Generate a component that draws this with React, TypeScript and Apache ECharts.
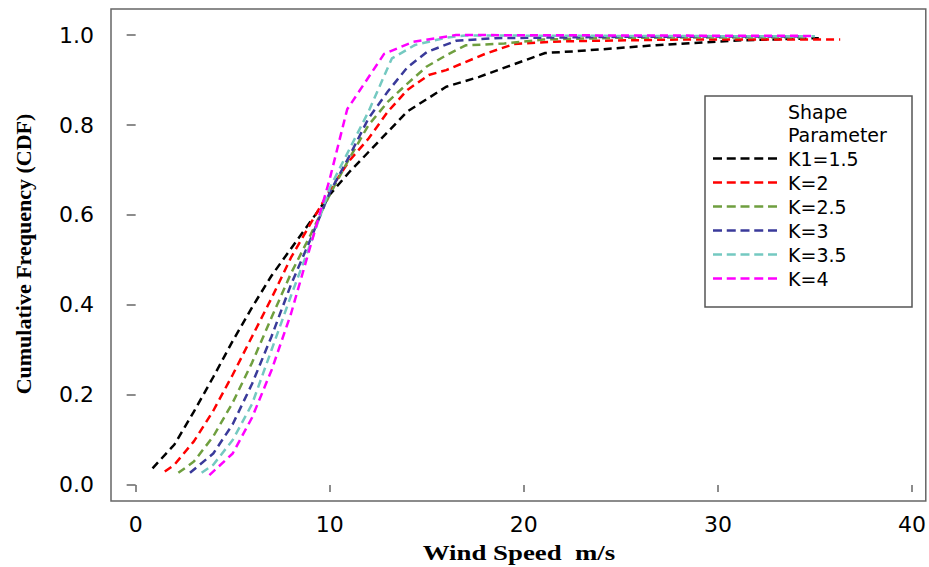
import React, { useEffect, useRef } from 'react';
import * as echarts from 'echarts';

const seriesNames = ['K1=1.5', 'K=2', 'K=2.5', 'K=3', 'K=3.5', 'K=4'];
const seriesColors = ['#000000', '#ff0000', '#6f9f3f', '#3a3a9a', '#74c9c1', '#ff00ff'];

const xTicks = [0, 10, 20, 30, 40];
const yTicks = [0, 0.2, 0.4, 0.6, 0.8, 1.0];

const k15Speed = [0.87, 2, 3, 4, 5, 6, 7, 8, 9, 10, 11, 12, 13, 14, 16, 17.7, 21.1, 22.7, 27, 31, 35.2];
const k15Cdf = [0.037, 0.09, 0.163, 0.24, 0.32, 0.395, 0.465, 0.525, 0.585, 0.645, 0.695, 0.74, 0.785, 0.83, 0.885, 0.907, 0.96, 0.964, 0.978, 0.988, 0.993];

const k2Speed = [1.5, 2, 3, 4, 5, 6, 7, 8, 9, 10, 11, 12, 13, 14, 15.1, 16, 18, 19.5, 22, 28, 36.3];
const k2Cdf = [0.03, 0.045, 0.097, 0.165, 0.245, 0.33, 0.415, 0.505, 0.58, 0.655, 0.72, 0.77, 0.83, 0.878, 0.911, 0.922, 0.958, 0.98, 0.986, 0.99, 0.99];

const k25Speed = [2.2, 3, 4, 5, 6, 7, 8, 9, 10, 11, 12, 13, 14, 15, 16, 17, 19, 21, 25, 34.5];
const k25Cdf = [0.027, 0.052, 0.108, 0.183, 0.272, 0.372, 0.47, 0.555, 0.645, 0.725, 0.8, 0.852, 0.892, 0.93, 0.955, 0.977, 0.981, 0.99, 0.994, 0.995];

const k3Speed = [2.8, 4, 5, 6, 7, 8, 9, 10, 11, 12, 13, 14, 15, 16.5, 18.5, 25, 34.5];
const k3Cdf = [0.027, 0.07, 0.135, 0.225, 0.33, 0.445, 0.545, 0.65, 0.73, 0.815, 0.875, 0.928, 0.962, 0.987, 0.993, 0.996, 0.997];

const k35Speed = [3.4, 4, 5, 6, 7, 8, 9, 10, 11, 12, 13.2, 14.4, 16, 17, 25, 35];
const k35Cdf = [0.027, 0.045, 0.1, 0.18, 0.3, 0.42, 0.535, 0.66, 0.745, 0.83, 0.948, 0.978, 0.994, 0.999, 0.998, 0.997];

const k4Speed = [3.8, 5, 6, 7, 8, 9, 10, 10.9, 12.8, 14.3, 16.5, 25, 35];
const k4Cdf = [0.022, 0.07, 0.15, 0.255, 0.38, 0.53, 0.68, 0.835, 0.958, 0.985, 1.0, 0.999, 0.998];

const speeds = [k15Speed, k2Speed, k25Speed, k3Speed, k35Speed, k4Speed];
const cdfs = [k15Cdf, k2Cdf, k25Cdf, k3Cdf, k35Cdf, k4Cdf];

const dashIcon =
  'path://M0,0h9v2.5h-9z M13.75,0h9v2.5h-9z M27.5,0h9v2.5h-9z M41.25,0h9v2.5h-9z M55,0h9v2.5h-9z';

const tickFont = 'DejaVu Sans';

export default function App() {
  const ref = useRef<HTMLDivElement>(null);
  useEffect(() => {
    const chart = echarts.init(ref.current!, undefined, { renderer: 'svg' });
    const option = {
      animation: false,
      backgroundColor: '#ffffff',
      grid: {
        show: true,
        left: 111,
        right: 1,
        top: 9,
        bottom: 66,
        borderColor: '#666666',
        borderWidth: 1.5,
        backgroundColor: 'transparent',
      },
      xAxis: {
        type: 'value',
        min: -1.27,
        max: 40.71,
        axisLine: { show: false },
        splitLine: { show: false },
        axisTick: {
          show: true,
          customValues: xTicks,
          length: 7,
          lineStyle: { color: '#666666', width: 1.5 },
        },
        axisLabel: {
          customValues: xTicks,
          margin: 12,
          fontSize: 22,
          fontFamily: tickFont,
          color: '#000',
          formatter: (v: number) => String(Math.round(v)),
        },
      },
      yAxis: {
        type: 'value',
        min: -0.0356,
        max: 1.0578,
        axisLine: { show: false },
        splitLine: { show: false },
        axisTick: {
          show: true,
          customValues: yTicks,
          length: 9,
          lineStyle: { color: '#666666', width: 1.5 },
        },
        axisLabel: {
          customValues: yTicks,
          margin: 17,
          fontSize: 22,
          fontFamily: tickFont,
          color: '#000',
          formatter: (v: number) => v.toFixed(1),
        },
      },
      legend: {
        data: seriesNames,
        orient: 'vertical',
        left: 713,
        top: 148,
        padding: 0,
        itemGap: 3,
        itemWidth: 64,
        itemHeight: 2.5,
        icon: dashIcon,
        selectedMode: false,
        textStyle: {
          fontFamily: tickFont,
          fontSize: 19,
          lineHeight: 21,
          color: '#000',
          padding: [0, 0, 0, 6],
        },
      },
      graphic: [
        {
          type: 'rect',
          shape: { x: 705, y: 96, width: 207, height: 211 },
          style: { fill: 'none', stroke: '#555', lineWidth: 1.5 },
          z: 10,
        },
        {
          type: 'text',
          x: 788,
          y: 112,
          style: {
            text: 'Shape',
            font: '19px "DejaVu Sans"',
            fill: '#000',
            textAlign: 'left',
            textVerticalAlign: 'middle',
            align: 'left',
            verticalAlign: 'middle',
          },
          z: 10,
        },
        {
          type: 'text',
          x: 788,
          y: 135,
          style: {
            text: 'Parameter',
            font: '19px "DejaVu Sans"',
            fill: '#000',
            textAlign: 'left',
            textVerticalAlign: 'middle',
            align: 'left',
            verticalAlign: 'middle',
          },
          z: 10,
        },
        {
          type: 'text',
          x: 519,
          y: 552,
          scaleX: 1.22,
          style: {
            text: 'Wind Speed  m/s',
            font: 'bold 22px "Liberation Serif"',
            fill: '#000',
            textAlign: 'center',
            textVerticalAlign: 'middle',
            align: 'center',
            verticalAlign: 'middle',
          },
        },
        {
          type: 'text',
          x: 23,
          y: 254,
          rotation: Math.PI / 2,
          scaleX: 1.0,
          style: {
            text: 'Cumulative Frequency (CDF)',
            font: 'bold 22px "Liberation Serif"',
            fill: '#000',
            textAlign: 'center',
            textVerticalAlign: 'middle',
            align: 'center',
            verticalAlign: 'middle',
          },
        },
      ],
      series: seriesNames.map((name, i) => ({
        name,
        type: 'line',
        data: speeds[i].map((s, j) => [s, cdfs[i][j]]),
        showSymbol: false,
        symbol: 'none',
        silent: true,
        color: seriesColors[i],
        itemStyle: { color: seriesColors[i] },
        lineStyle: { color: seriesColors[i], width: 2.5, type: [8, 5] },
      })),
    };
    chart.setOption(option as any);
    return () => chart.dispose();
  }, []);
  return (
    <div
      ref={ref}
      style={{ position: 'absolute', left: 0, top: 0, width: 929, height: 567 }}
    />
  );
}
